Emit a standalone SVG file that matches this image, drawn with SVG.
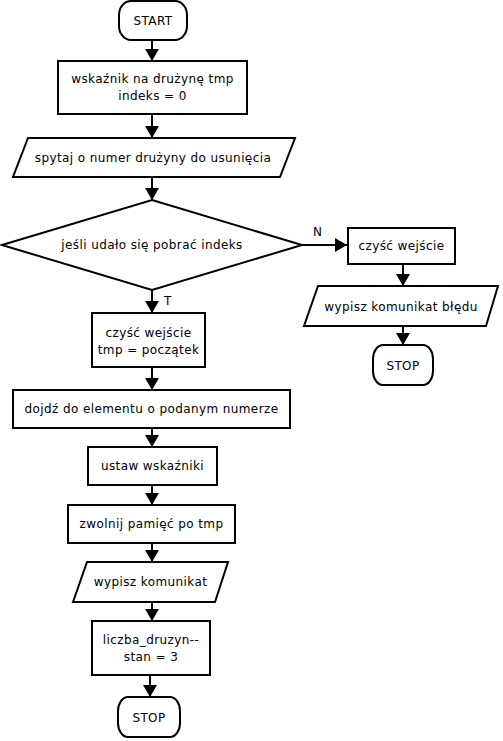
<svg xmlns="http://www.w3.org/2000/svg" width="503" height="741" viewBox="0 0 503 741">
<defs>
<marker id="ah" markerUnits="userSpaceOnUse" markerWidth="12" markerHeight="14" refX="12" refY="7" orient="auto">
<path d="M0,0 L12,7 L0,14 Z" fill="#000"/>
</marker>
<style>
.s{fill:#fff;stroke:#000;stroke-width:2}
.t{font-family:"DejaVu Sans",sans-serif;font-size:12px;letter-spacing:0.4px;fill:#000;text-anchor:middle}
.l{font-family:"DejaVu Sans",sans-serif;font-size:12px;fill:#000}
.c{fill:none;stroke:#000;stroke-width:2;marker-end:url(#ah)}
</style>
</defs>
<rect width="503" height="741" fill="#fff"/>
<g id="connectors">
<line class="c" x1="152" y1="40" x2="152" y2="61"/>
<line class="c" x1="152" y1="114" x2="152" y2="138"/>
<line class="c" x1="152" y1="177" x2="152" y2="200"/>
<line class="c" x1="152" y1="290" x2="152" y2="313"/>
<line class="c" x1="152" y1="367" x2="152" y2="390"/>
<line class="c" x1="152" y1="428" x2="152" y2="447"/>
<line class="c" x1="152" y1="485" x2="152" y2="505"/>
<line class="c" x1="152" y1="543" x2="152" y2="562"/>
<line class="c" x1="152" y1="602" x2="152" y2="621"/>
<line class="c" x1="150" y1="675" x2="150" y2="697"/>
<line class="c" x1="302" y1="245" x2="347" y2="245"/>
<line class="c" x1="403" y1="264" x2="403" y2="286"/>
<line class="c" x1="403" y1="326" x2="403" y2="345"/>
<text class="l" x="313" y="236">N</text>
<text class="l" x="164" y="305">T</text>
</g>
<g id="start">
<rect class="s" x="119" y="1" width="68" height="39" rx="12" ry="14"/>
<text class="t" x="153" y="25">START</text>
</g>
<g id="init">
<rect class="s" x="58" y="61" width="189" height="53"/>
<text class="t" x="152.5" y="83">wskaźnik na drużynę tmp</text>
<text class="t" x="152.5" y="100">indeks = 0</text>
</g>
<g id="ask">
<polygon class="s" points="28,138 295,138 280,177 13,177"/>
<text class="t" x="153" y="162">spytaj o numer drużyny do usunięcia</text>
</g>
<g id="decision">
<polygon class="s" points="152,200 302,245 152,290 2,245"/>
<text class="t" x="152" y="249">jeśli udało się pobrać indeks</text>
</g>
<g id="clear2">
<rect class="s" x="348" y="228" width="107" height="36"/>
<text class="t" x="401.5" y="250">czyść wejście</text>
</g>
<g id="err">
<polygon class="s" points="318,286 498,286 486,326 304,326"/>
<text class="t" x="401" y="311">wypisz komunikat błędu</text>
</g>
<g id="stop2">
<rect class="s" x="373" y="345" width="60" height="40" rx="10" ry="14"/>
<text class="t" x="403" y="370">STOP</text>
</g>
<g id="clear1">
<rect class="s" x="92" y="313" width="113" height="54"/>
<text class="t" x="148.5" y="337">czyść wejście</text>
<text class="t" x="148.5" y="354">tmp = początek</text>
</g>
<g id="goto">
<rect class="s" x="13" y="390" width="277" height="38"/>
<text class="t" x="151.5" y="413">dojdź do elementu o podanym numerze</text>
</g>
<g id="setptr">
<rect class="s" x="88" y="447" width="129" height="38"/>
<text class="t" x="152.5" y="470">ustaw wskaźniki</text>
</g>
<g id="free">
<rect class="s" x="68" y="505" width="167" height="38"/>
<text class="t" x="151.5" y="528">zwolnij pamięć po tmp</text>
</g>
<g id="msg">
<polygon class="s" points="87,562 228,562 215,602 73,602"/>
<text class="t" x="150.5" y="586">wypisz komunikat</text>
</g>
<g id="count">
<rect class="s" x="92" y="621" width="118" height="54"/>
<text class="t" x="151" y="644">liczba_druzyn--</text>
<text class="t" x="151" y="661">stan = 3</text>
</g>
<g id="stop1">
<rect class="s" x="118" y="697" width="62" height="40" rx="10" ry="14"/>
<text class="t" x="149" y="722">STOP</text>
</g>
</svg>
